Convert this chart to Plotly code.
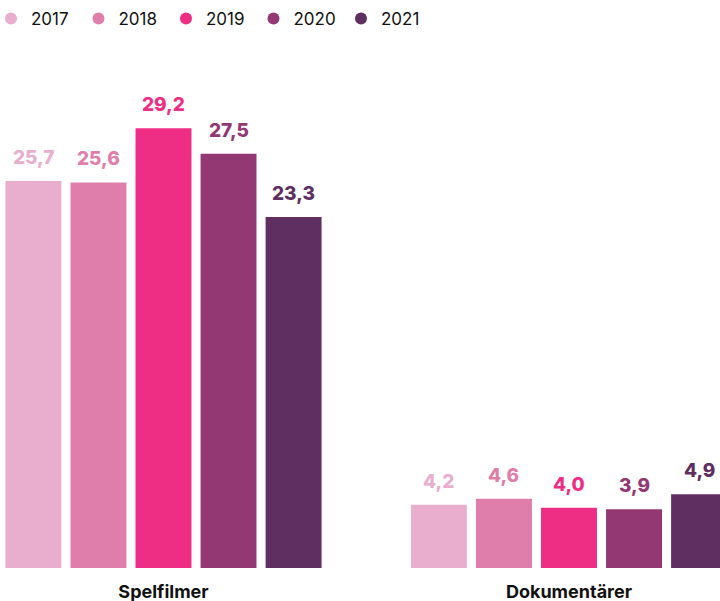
import plotly.graph_objects as go

categories = ["Spelfilmer", "Dokumentärer"]
years = ["2017", "2018", "2019", "2020", "2021"]
values = {
    "2017": [25.7, 4.2],
    "2018": [25.6, 4.6],
    "2019": [29.2, 4.0],
    "2020": [27.5, 3.9],
    "2021": [23.3, 4.9],
}
colors = ["#E9AECD", "#E07EAB", "#EE2E84", "#943873", "#5E2F60"]

FONT = "Inter"
BARGAP = 0.198
GROUPGAP = 0.14
n = len(years)
slot = (1 - BARGAP) / n
xpos = list(range(len(categories)))

fig = go.Figure()
annotations = []
for j, (yr, col) in enumerate(zip(years, colors)):
    fig.add_trace(go.Bar(
        x=xpos, y=values[yr], name=yr, marker=dict(color=col, line=dict(width=0)),
        showlegend=False, hoverinfo="skip",
    ))
    fig.add_trace(go.Scatter(
        x=[None], y=[None], mode="markers", name=yr,
        marker=dict(color=col, size=12, symbol="circle"), showlegend=True,
    ))
    for i, v in enumerate(values[yr]):
        annotations.append(dict(
            x=i + (j - (n - 1) / 2) * slot, y=v, xref="x", yref="y",
            text=f"{v:.1f}".replace(".", ","), showarrow=False,
            yanchor="bottom", yshift=10,
            font=dict(family=FONT, size=19, color=col, weight=800),
        ))

fig.update_layout(
    width=720, height=601,
    margin=dict(l=0, r=0, t=60, b=33),
    paper_bgcolor="white", plot_bgcolor="white",
    barmode="group", bargap=BARGAP, bargroupgap=GROUPGAP,
    annotations=annotations,
    showlegend=True,
    legend=dict(
        orientation="h", xref="container", yref="container",
        x=0, y=1 - 19 / 601, xanchor="left", yanchor="middle",
        indentation=-9,
        font=dict(family=FONT, size=17, color="#111111"),
        entrywidth=51.5, entrywidthmode="pixels",
        itemclick=False, itemdoubleclick=False,
    ),
    xaxis=dict(
        range=[-163.5 / 405.5, (720 - 163.5) / 405.5],
        tickvals=xpos, ticktext=categories,
        showgrid=False, zeroline=False, showline=False, ticks="",
        tickfont=dict(family=FONT, size=18, color="#111111", weight="bold"),
        ticklabelstandoff=11, automargin=False, fixedrange=True,
    ),
    yaxis=dict(
        range=[0, 508 / 15.06], visible=False, showgrid=False,
        zeroline=False, automargin=False, fixedrange=True,
    ),
    font=dict(family=FONT),
)

fig.write_html(
    "out.html",
    config={"displayModeBar": False},
    post_script="document.body.style.margin='0';document.body.style.overflow='hidden';",
)
